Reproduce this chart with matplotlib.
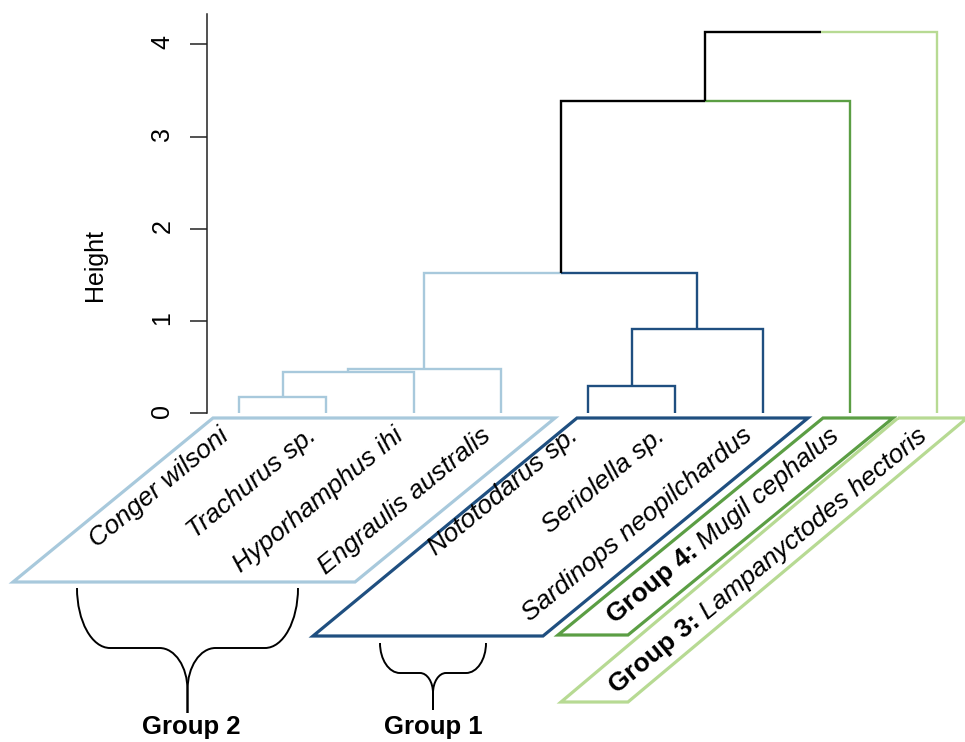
import numpy as np
import matplotlib
matplotlib.use("Agg")
import matplotlib.pyplot as plt
from matplotlib.path import Path
from matplotlib.patches import PathPatch, Polygon
from matplotlib.transforms import offset_copy

plt.rcParams['font.family'] = ['Liberation Sans', 'DejaVu Sans']

# ---------------- data ----------------
species = ["Conger wilsoni", "Trachurus sp.", "Hyporhamphus ihi", "Engraulis australis",
           "Nototodarus sp.", "Seriolella sp.", "Sardinops neopilchardus",
           "Mugil cephalus", "Lampanyctodes hectoris"]
leaf_group = [2, 2, 2, 2, 1, 1, 1, 4, 3]
# hclust-style merge table: negative = leaf (1-based), positive = earlier merge (1-based)
merge_left = [-1, 1, 2, -5, 4, 3, 6, 7]
merge_right = [-2, -3, -4, -6, -7, 5, -8, -9]
merge_height = [0.18, 0.445, 0.475, 0.30, 0.91, 1.525, 3.39, 4.13]
group_names = {1: "Group 1", 2: "Group 2", 3: "Group 3", 4: "Group 4"}
group_colors = {1: "#1f4f80", 2: "#a8c9dc", 3: "#b7da93", 4: "#5b9e44"}
y_ticks = [0, 1, 2, 3, 4]

# ---------------- layout ----------------
W, H = 965, 742
fig = plt.figure(figsize=(W / 100, H / 100), dpi=100)
AX_L = 207
LEAF0_PX, LEAF_STEP = 239.0, 87.25
ZERO_PX, UNIT_PX = 413.3, 92.25
ax = fig.add_axes([AX_L / W, 0, (W - AX_L) / W, 1])
ax.set_xlim(1 + (AX_L - LEAF0_PX) / LEAF_STEP, 1 + (W - LEAF0_PX) / LEAF_STEP)
ax.set_ylim((ZERO_PX - H) / UNIT_PX, ZERO_PX / UNIT_PX)


def px(xp, yp):
    """layout pixel position (from top-left) -> data coordinates"""
    return 1 + (xp - LEAF0_PX) / LEAF_STEP, (ZERO_PX - yp) / UNIT_PX


# ---------------- dendrogram ----------------
leaf_x = np.arange(1, len(species) + 1)
nodes = {}
for j in range(len(species)):
    nodes[-(j + 1)] = (leaf_x[j], 0.0, leaf_group[j])

DLW = 1.7
for k, (l, r, h) in enumerate(zip(merge_left, merge_right, merge_height)):
    cl, cr = nodes[l], nodes[r]
    xm = (cl[0] + cr[0]) / 2
    for c in (cl, cr):
        col = group_colors[c[2]] if c[2] is not None else "black"
        ax.plot([xm, c[0], c[0]], [h, h, c[1]], color=col, lw=DLW,
                solid_joinstyle='miter', solid_capstyle='butt', zorder=3)
    g = cl[2] if cl[2] == cr[2] else None
    nodes[k + 1] = (xm, h, g)

# axis
for s in ['top', 'right', 'bottom']:
    ax.spines[s].set_visible(False)
ax.spines['left'].set_bounds(0, 4.33)
ax.spines['left'].set_linewidth(1.1)
ax.spines['left'].set_color('#222222')
ax.set_xticks([])
ax.set_yticks(y_ticks)
ax.set_yticklabels([str(t) for t in y_ticks])
ax.tick_params(axis='y', length=12.5, width=1.1, color='#222222', labelsize=18,
               pad=11, labelrotation=90)
fig.text(95 / W, 1 - 265 / H, "Height", rotation=90, fontsize=18,
         ha='center', va='center')

# ---------------- labels ----------------
ROT = 39.5
FS = 19
lab_dx = -9 / LEAF_STEP
lab_y = (ZERO_PX - 438) / UNIT_PX
renderer = fig.canvas.get_renderer()
cosr, sinr = np.cos(np.radians(ROT)), np.sin(np.radians(ROT))
for j, name in enumerate(species):
    g = leaf_group[j]
    t = ax.text(leaf_x[j] + lab_dx, lab_y, name, rotation=ROT, rotation_mode='anchor',
                ha='right', va='baseline', fontsize=FS, style='italic', clip_on=False)
    if g in (3, 4):
        tmp = ax.text(0, 0, name, fontsize=FS, style='italic')
        w_it = tmp.get_window_extent(renderer).width
        tmp.remove()
        d = (w_it + 0.28 * FS * 100 / 72) * 72 / 100
        tr = offset_copy(ax.transData, fig=fig, x=-d * cosr, y=-d * sinr, units='points')
        ax.text(leaf_x[j] + lab_dx, lab_y, group_names[g] + ":", rotation=ROT,
                rotation_mode='anchor', ha='right', va='baseline', fontsize=FS,
                fontweight='bold', clip_on=False, transform=tr)

# ---------------- parallelogram frames ----------------
frames = {
    2: [(213, 418), (555, 418), (355, 582), (13, 582)],
    1: [(577, 418), (808, 418), (543, 636), (313, 636)],
    4: [(823, 418), (893, 418), (628, 635), (558, 635)],
    3: [(898, 418), (967, 418), (628, 702), (561, 702)],
}
for g, pts in frames.items():
    poly = Polygon([px(*p) for p in pts], closed=True, fill=False,
                   ec=group_colors[g], lw=2.3, joinstyle='miter', clip_on=False, zorder=2)
    ax.add_patch(poly)

# ---------------- braces ----------------
K = 0.5523


def brace(xl, xr, ytop, ymid, ytip, xc, a, b, c):
    for sgn, xe in ((1, xl), (-1, xr)):
        verts = [
            (xe, ytop),
            (xe, ytop + K * (ymid - ytop)), (xe + sgn * (1 - K) * a, ymid), (xe + sgn * a, ymid),
            (xc - sgn * b, ymid),
            (xc - sgn * b + sgn * K * b, ymid), (xc, ymid + (1 - K) * c), (xc, ymid + c),
            (xc, ytip),
        ]
        codes = [Path.MOVETO, Path.CURVE4, Path.CURVE4, Path.CURVE4, Path.LINETO,
                 Path.CURVE4, Path.CURVE4, Path.CURVE4, Path.LINETO]
        path = Path([px(*v) for v in verts], codes)
        ax.add_patch(PathPatch(path, fill=False, ec='black', lw=1.4, clip_on=False))


brace(77, 298, 588, 648, 713, 187.5, 33, 28, 42)
brace(380, 486, 643, 673, 710, 433, 20, 13, 20)

for g, (xp, yp) in {2: (191, 734), 1: (433, 734)}.items():
    x, y = px(xp, yp)
    ax.text(x, y, group_names[g], fontsize=18.5, fontweight='bold', ha='center',
            va='baseline', clip_on=False)

fig.savefig("out.png", dpi=100)
